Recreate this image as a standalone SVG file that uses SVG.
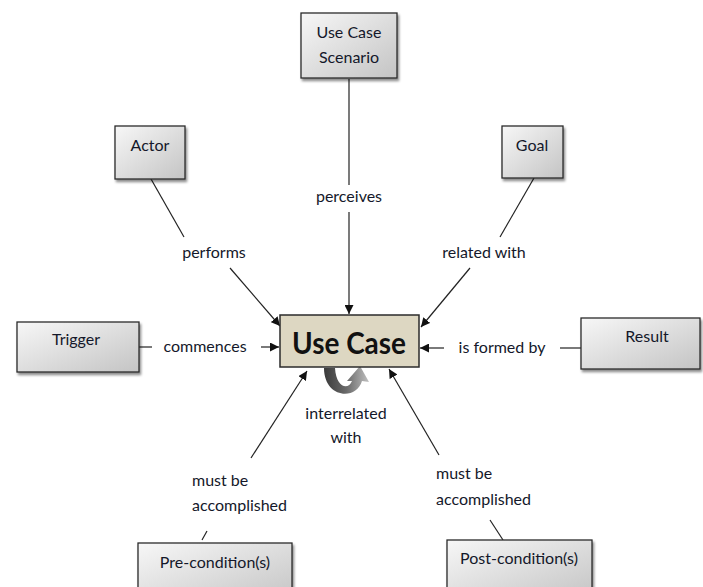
<svg xmlns="http://www.w3.org/2000/svg" width="703" height="587" viewBox="0 0 703 587">
  <defs>
    <linearGradient id="boxFill" x1="0" y1="0" x2="1" y2="1">
      <stop offset="0" stop-color="#f7f7f7"/>
      <stop offset="1" stop-color="#c4c4c4"/>
    </linearGradient>
    <linearGradient id="loopFill" x1="0" y1="0" x2="1" y2="0">
      <stop offset="0" stop-color="#3a3a3a"/>
      <stop offset="0.5" stop-color="#6a6a6a"/>
      <stop offset="1" stop-color="#c0c0c0"/>
    </linearGradient>
    <filter id="shadow" x="-10%" y="-10%" width="130%" height="140%">
      <feDropShadow dx="1.5" dy="2.5" stdDeviation="1.2" flood-color="#000" flood-opacity="0.45"/>
    </filter>
    <marker id="arrow" viewBox="0 0 10 10" refX="10" refY="5" markerWidth="9" markerHeight="9" markerUnits="userSpaceOnUse" orient="auto">
      <path d="M0,0 L10,5 L0,10 z" fill="#111"/>
    </marker>
  </defs>
  <style>
    .box { fill: url(#boxFill); stroke: #2b2b2b; stroke-width: 1.3; filter: url(#shadow); }
    .label { font-family: Lato, "Open Sans", "Liberation Sans", sans-serif; font-size: 16px; fill: #14182a; text-anchor: middle; }
    .left { text-anchor: start; }
    .conn { stroke: #222; stroke-width: 1.2; fill: none; }
  </style>
  <rect width="703" height="587" fill="#fff"/>

  <!-- connectors and their labels -->
  <g id="connectors">
    <!-- scenario -> use case -->
    <line class="conn" x1="349" y1="79" x2="349" y2="185"/>
    <text class="label" x="349" y="202">perceives</text>
    <line class="conn" x1="349" y1="212" x2="349" y2="314" marker-end="url(#arrow)"/>

    <!-- actor -> use case -->
    <line class="conn" x1="151" y1="179" x2="184" y2="237"/>
    <text class="label" x="214" y="258">performs</text>
    <line class="conn" x1="230" y1="268" x2="280" y2="326" marker-end="url(#arrow)"/>

    <!-- goal -> use case -->
    <line class="conn" x1="534" y1="178" x2="500" y2="237"/>
    <text class="label" x="484" y="258">related with</text>
    <line class="conn" x1="470" y1="268" x2="421" y2="327" marker-end="url(#arrow)"/>

    <!-- trigger -> use case -->
    <line class="conn" x1="139" y1="347" x2="152" y2="347"/>
    <text class="label" x="205" y="352">commences</text>
    <line class="conn" x1="261" y1="347" x2="279" y2="347" marker-end="url(#arrow)"/>

    <!-- result -> use case -->
    <line class="conn" x1="581" y1="348" x2="560" y2="348"/>
    <text class="label" x="502" y="353">is formed by</text>
    <line class="conn" x1="444" y1="348" x2="420" y2="348" marker-end="url(#arrow)"/>

    <!-- pre-condition -> use case -->
    <line class="conn" x1="202" y1="540" x2="207" y2="531"/>
    <text class="label left" x="192" y="486">must be</text>
    <text class="label left" x="192" y="511">accomplished</text>
    <line class="conn" x1="251" y1="458" x2="307" y2="371" marker-end="url(#arrow)"/>

    <!-- post-condition -> use case -->
    <line class="conn" x1="490" y1="520" x2="503" y2="540"/>
    <text class="label left" x="436" y="479">must be</text>
    <text class="label left" x="436" y="505">accomplished</text>
    <line class="conn" x1="439" y1="455" x2="389" y2="369" marker-end="url(#arrow)"/>

    <!-- self loop: interrelated with -->
    <path d="M324,368 L335,368 C336,387 348,391 352,381 L347,381 L360,366 L369,382 L362,381 C356,401 324,398 324,368 z" fill="url(#loopFill)"/>
    <text class="label" x="346" y="419">interrelated</text>
    <text class="label" x="346" y="443">with</text>
  </g>

  <g id="node-scenario">
    <rect class="box" x="301" y="13" width="96" height="65"/>
    <text class="label" x="349" y="38">Use Case</text>
    <text class="label" x="349" y="63">Scenario</text>
  </g>
  <g id="node-actor">
    <rect class="box" x="115" y="126" width="70" height="53"/>
    <text class="label" x="150" y="151">Actor</text>
  </g>
  <g id="node-goal">
    <rect class="box" x="502" y="126" width="61" height="52"/>
    <text class="label" x="532" y="151">Goal</text>
  </g>
  <g id="node-trigger">
    <rect class="box" x="17" y="322" width="122" height="50"/>
    <text class="label" x="76" y="345">Trigger</text>
  </g>
  <g id="node-result">
    <rect class="box" x="581" y="318" width="119" height="51"/>
    <text class="label" x="647" y="342">Result</text>
  </g>
  <g id="node-precondition">
    <rect class="box" x="138" y="543" width="154" height="60"/>
    <text class="label" x="215" y="568">Pre-condition(s)</text>
  </g>
  <g id="node-postcondition">
    <rect class="box" x="447" y="540" width="145" height="60"/>
    <text class="label" x="519" y="564">Post-condition(s)</text>
  </g>
  <g id="node-usecase">
    <rect x="280" y="315" width="139" height="52" fill="#ddd7c2" stroke="#2b2b2b" stroke-width="1.5"/>
    <text x="349" y="354" font-family="Lato, 'Open Sans', 'Liberation Sans', sans-serif" font-size="31" font-weight="bold" fill="#111" text-anchor="middle" textLength="114" lengthAdjust="spacingAndGlyphs">Use Case</text>
  </g>
</svg>
